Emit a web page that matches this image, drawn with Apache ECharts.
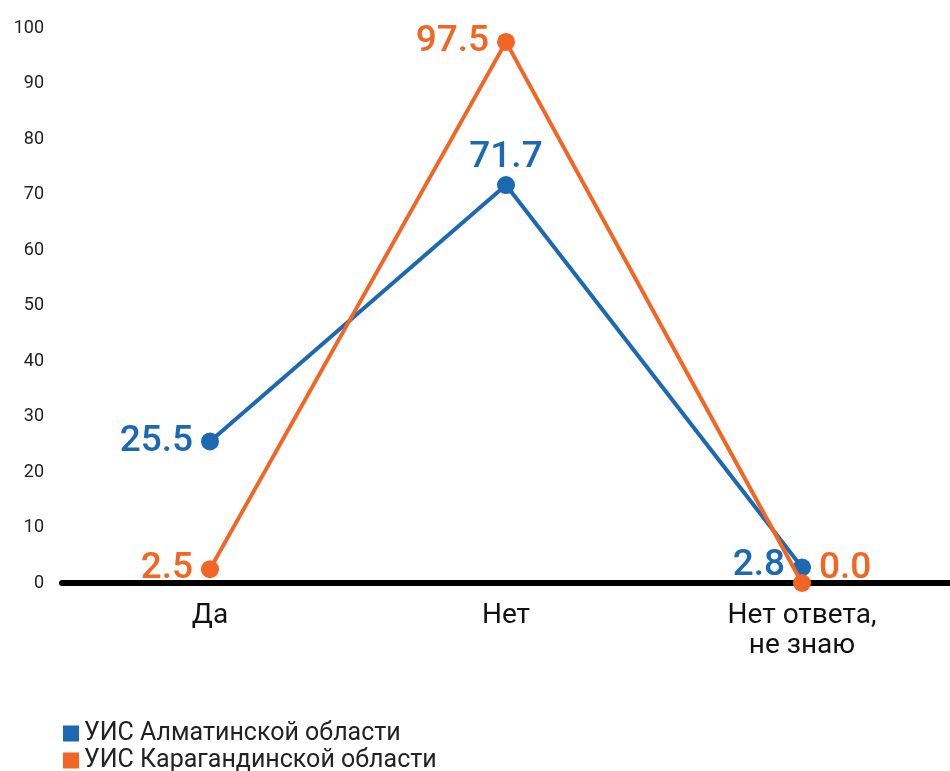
<!DOCTYPE html>
<html>
<head>
<meta charset="utf-8">
<script src="https://cdn.jsdelivr.net/npm/echarts@6/dist/echarts.min.js"></script>
<style>
  html, body { margin: 0; padding: 0; background: #fff; }
  #chart { width: 950px; height: 771px; }
</style>
</head>
<body>
<div id="chart"></div>
<script>
const categories = ['Да', 'Нет', 'Нет ответа,\nне знаю'];
const almatySeriesName = 'УИС Алматинской области';
const karagandaSeriesName = 'УИС Карагандинской области';
const almatyValues = [25.5, 71.7, 2.8];
const karagandaValues = [2.5, 97.5, 0.0];
const yTicks = [0, 10, 20, 30, 40, 50, 60, 70, 80, 90, 100];

const BLUE = '#1b69b3';
const ORANGE = '#f26522';

// label placement per point: [position, x offset, y offset]
const almatyLabelPos = [['left', 0, 0], ['top', 0, 8], ['left', 0, -2]];
const karagandaLabelPos = [['left', 0, 0], ['left', 0, 0], ['right', 0, -14]];

function withLabels(values, placements) {
  return values.map((v, i) => ({
    value: v,
    label: {
      position: placements[i][0],
      offset: [placements[i][1], placements[i][2]]
    }
  }));
}

const chart = echarts.init(document.getElementById('chart'));
chart.setOption({
  animation: false,
  backgroundColor: '#ffffff',
  textStyle: { fontFamily: 'Roboto, "Noto Sans", sans-serif' },
  grid: { left: 62, right: -6, top: 28, bottom: 188 },
  legend: {
    orient: 'vertical',
    left: 58,
    top: 716,
    height: 60,
    icon: 'rect',
    itemWidth: 16,
    itemHeight: 16,
    itemGap: 2,
    textStyle: { fontSize: 25, lineHeight: 24, color: '#222', fontFamily: 'Roboto, sans-serif' },
    data: [almatySeriesName, karagandaSeriesName]
  },
  xAxis: {
    type: 'category',
    data: categories,
    boundaryGap: true,
    axisLine: { show: true, lineStyle: { color: '#000', width: 6 } },
    axisTick: { show: false },
    axisLabel: {
      fontSize: 28,
      color: '#111',
      margin: 18,
      lineHeight: 30,
      interval: 0
    }
  },
  yAxis: {
    type: 'value',
    min: yTicks[0],
    max: yTicks[yTicks.length - 1],
    interval: 10,
    axisLine: { show: false },
    axisTick: { show: false },
    splitLine: { show: false },
    axisLabel: { fontSize: 18, color: '#222', margin: 18 }
  },
  series: [
    {
      name: almatySeriesName,
      type: 'line',
      data: withLabels(almatyValues, almatyLabelPos),
      color: BLUE,
      lineStyle: { width: 4, color: BLUE },
      symbol: 'circle',
      symbolSize: 18,
      itemStyle: { color: BLUE },
      label: {
        show: true,
        fontSize: 37,
        fontWeight: 500,
        color: BLUE,
        distance: 8,
        formatter: p => p.value.toFixed(1)
      },
      z: 3
    },
    {
      name: karagandaSeriesName,
      type: 'line',
      data: withLabels(karagandaValues, karagandaLabelPos),
      color: ORANGE,
      lineStyle: { width: 4, color: ORANGE },
      symbol: 'circle',
      symbolSize: 18,
      itemStyle: { color: ORANGE },
      label: {
        show: true,
        fontSize: 37,
        fontWeight: 500,
        color: ORANGE,
        distance: 8,
        formatter: p => p.value.toFixed(1)
      },
      z: 4
    }
  ]
});
</script>
</body>
</html>
